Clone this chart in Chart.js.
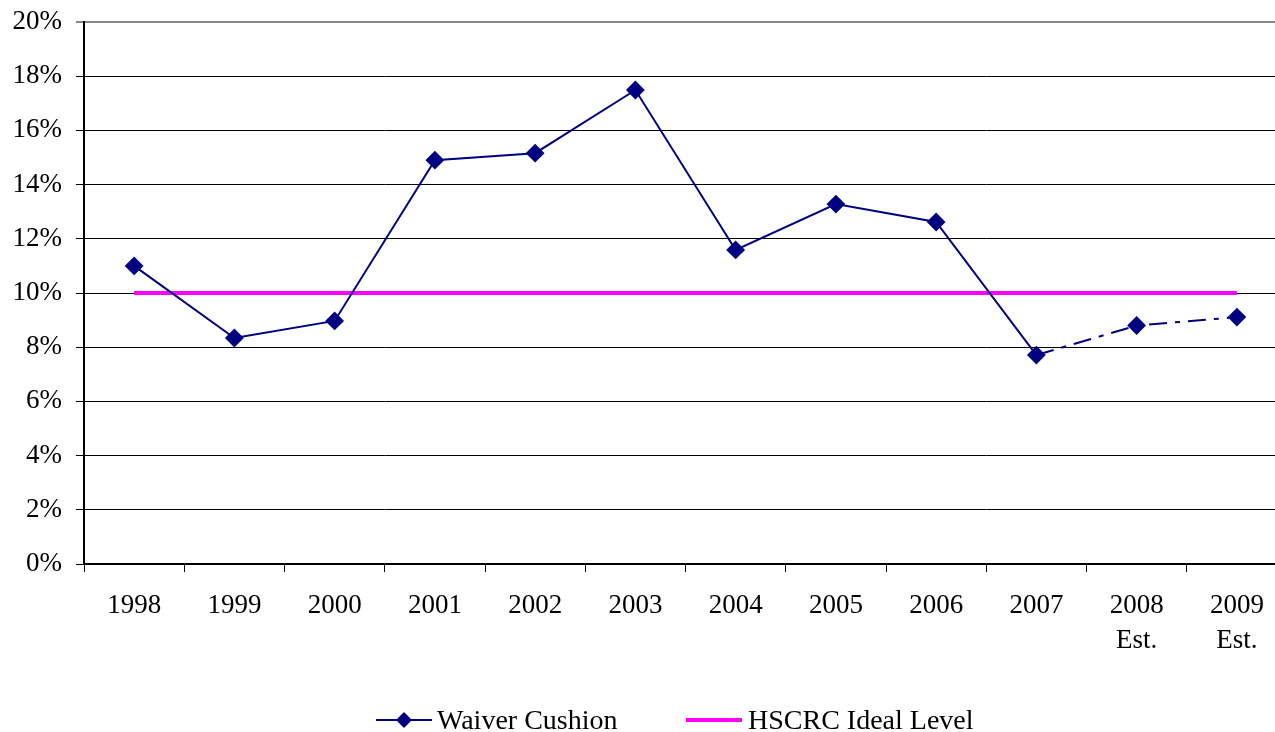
<!DOCTYPE html>
<html>
<head>
<meta charset="utf-8">
<script src="https://cdn.jsdelivr.net/npm/chart.js@4/dist/chart.umd.min.js"></script>
<style>
  html, body { margin: 0; padding: 0; background: #fff; overflow: hidden; }
  #wrap { width: 1297px; height: 732px; }
</style>
</head>
<body>
<div id="wrap"><canvas id="cushionChart"></canvas></div>
<script>
// values (percent)
const years = [["1998"], ["1999"], ["2000"], ["2001"], ["2002"], ["2003"], ["2004"], ["2005"], ["2006"], ["2007"], ["2008", "Est."], ["2009", "Est."]];
const waiverCushion = [11.0, 8.34, 8.97, 14.9, 15.16, 17.49, 11.59, 13.28, 12.62, 7.71, 8.8, 9.11];
const idealLevel = [10, 10, 10, 10, 10, 10, 10, 10, 10, 10, 10, 10];
const firstEstimate = 9; // segments from 2007 on are estimates (dash-dot)

const navy = "#000080";
const magenta = "#FF00FF";
const serif = "'Liberation Serif', 'Times New Roman', serif";

// legend drawn under the axis: line + marker, like the original
const legendPlugin = {
    id: "lineLegend",
    afterDraw(chart) {
        const c = chart.ctx;
        const y = 720;
        c.save();
        c.font = "28px " + serif;
        c.textBaseline = "middle";

        // Waiver Cushion
        let x = 376;
        c.strokeStyle = navy;
        c.lineWidth = 2;
        c.beginPath();
        c.moveTo(x, y);
        c.lineTo(x + 56, y);
        c.stroke();
        c.fillStyle = navy;
        c.beginPath();
        c.moveTo(x + 28, y - 8);
        c.lineTo(x + 36, y);
        c.lineTo(x + 28, y + 8);
        c.lineTo(x + 20, y);
        c.closePath();
        c.fill();
        c.fillStyle = "#000";
        c.fillText("Waiver Cushion", x + 61, y + 2);

        // HSCRC Ideal Level
        x = 686;
        c.strokeStyle = magenta;
        c.lineWidth = 4;
        c.beginPath();
        c.moveTo(x, y);
        c.lineTo(x + 56, y);
        c.stroke();
        c.fillText("HSCRC Ideal Level", x + 62, y + 2);
        c.restore();
    }
};

const ctx = document.getElementById("cushionChart").getContext("2d");
const cushionChart = new Chart(ctx, {
    type: "line",
    data: {
        labels: years,
        datasets: [
            {
                label: "Waiver Cushion",
                data: waiverCushion,
                borderColor: navy,
                backgroundColor: navy,
                borderWidth: 2,
                pointStyle: "rectRot",
                pointRadius: 8,
                pointHoverRadius: 8,
                tension: 0,
                segment: {
                    borderDash: (s) => (s.p0DataIndex >= firstEstimate ? [18, 8, 5, 8] : undefined)
                },
                order: 0
            },
            {
                label: "HSCRC Ideal Level",
                data: idealLevel,
                borderColor: magenta,
                backgroundColor: magenta,
                borderWidth: 4,
                pointRadius: 0,
                tension: 0,
                order: 1
            }
        ]
    },
    options: {
        responsive: true,
        maintainAspectRatio: false,
        animation: false,
        layout: { padding: { top: 22, left: 0, right: 0, bottom: 0 } },
        plugins: {
            legend: { display: false },
            tooltip: { enabled: false }
        },
        scales: {
            x: {
                offset: true,
                afterFit: (scale) => {
                    scale.height = 168;
                    scale.paddingLeft = 0;
                    scale.paddingRight = 0;
                },
                grid: {
                    offset: true,
                    drawOnChartArea: false,
                    drawTicks: true,
                    tickLength: 8,
                    color: "#000",
                    lineWidth: 1
                },
                border: { color: "#000", width: 2 },
                ticks: {
                    color: "#000",
                    font: { family: serif, size: 27, lineHeight: 1.3 },
                    padding: 16,
                    maxRotation: 0,
                    autoSkip: false
                }
            },
            y: {
                min: 0,
                max: 20,
                afterFit: (scale) => {
                    scale.width = 84;
                    scale.paddingTop = 0;
                    scale.paddingBottom = 0;
                },
                grid: {
                    color: (g) => (g.tick && g.tick.value === 20 ? "#888" : "#000"),
                    lineWidth: (g) => (g.tick && g.tick.value === 20 ? 2 : 1),
                    tickLength: 8
                },
                border: { color: "#000", width: 2 },
                ticks: {
                    stepSize: 2,
                    color: "#000",
                    padding: 14,
                    font: { family: serif, size: 27 },
                    callback: (v) => v + "%"
                }
            }
        }
    },
    plugins: [legendPlugin]
});
</script>
</body>
</html>
